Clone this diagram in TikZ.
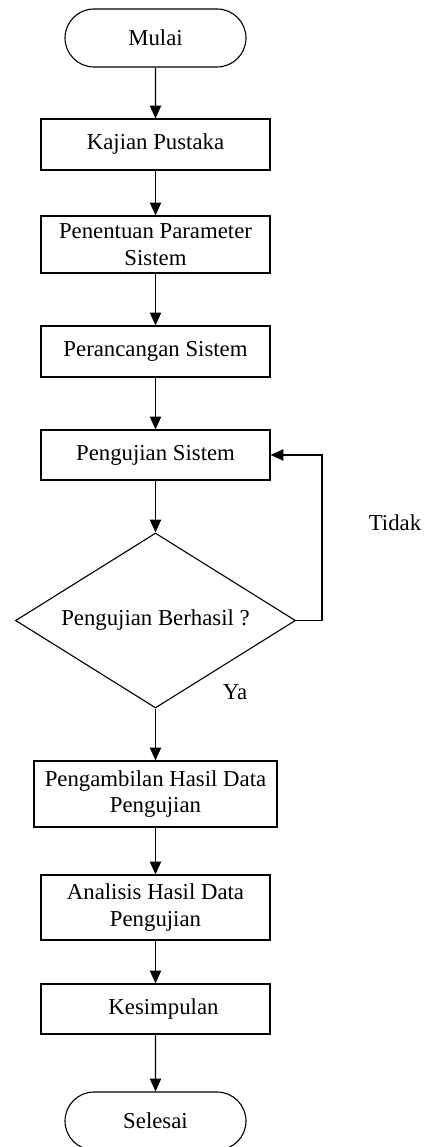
\documentclass[tikz,border=0pt]{standalone}
\usepackage{fontspec}
\setmainfont{Liberation Serif}
\usetikzlibrary{shapes.geometric,shapes.misc,arrows.meta}
\begin{document}
\begin{tikzpicture}[
    font=\fontsize{16.2}{19}\selectfont,
    terminal/.style={draw, rounded rectangle, line width=0.8pt, minimum width=4.525cm, minimum height=1.45cm, inner sep=0pt},
    proses/.style={draw, rectangle, line width=0.8pt, minimum width=5.725cm, inner sep=0pt, align=center},
    keputusan/.style={draw, diamond, line width=0.8pt, aspect=1.6, minimum width=7cm, minimum height=4.375cm, inner sep=0pt},
    panah/.style={-{Triangle[length=0.32cm, width=0.28cm]}, line width=1pt}
]
    \useasboundingbox (0,0) rectangle (10.6,-28.675);
    % nodes
    \node[terminal] (mulai) at (3.8875,-0.95) {Mulai};
    \node[proses, minimum height=1.275cm] (kajian) at (3.8875,-3.6125) {Kajian Pustaka};
    \node[proses, minimum height=1.425cm] (parameter) at (3.8875,-6.1125) {Penentuan Parameter\\Sistem};
    \node[proses, minimum height=1.275cm] (rancang) at (3.8875,-8.7875) {Perancangan Sistem};
    \node[proses, minimum height=1.25cm] (uji) at (3.8875,-11.375) {Pengujian Sistem};
    \node[keputusan] (cek) at (3.8875,-15.5125) {Pengujian Berhasil ?};
    \node[proses, minimum width=6.075cm, minimum height=1.65cm] (ambil) at (3.8875,-19.85) {Pengambilan Hasil Data\\Pengujian};
    \node[proses, minimum height=1.625cm] (analisis) at (3.8875,-22.6875) {Analisis Hasil Data\\Pengujian};
    \node[proses, minimum height=1.25cm] (simpul) at (3.8875,-25.225) {\hspace{0.4cm}Kesimpulan};
    \node[terminal] (selesai) at (3.8875,-28.025) {Selesai};
    % labels
    \node (tidak) at (9.875,-13.075) {Tidak};
    \node (ya) at (5.875,-17.3) {Ya};
    % edges
    \draw[panah] (mulai) -- (kajian);
    \draw[panah] (kajian) -- (parameter);
    \draw[panah] (parameter) -- (rancang);
    \draw[panah] (rancang) -- (uji);
    \draw[panah] (uji) -- (cek);
    \draw[panah] (cek.east) -- ++(0.65,0) |- (uji.east);
    \draw[panah] (cek) -- (ambil);
    \draw[panah] (ambil) -- (analisis);
    \draw[panah] (analisis) -- (simpul);
    \draw[panah] (simpul) -- (selesai);
\end{tikzpicture}
\end{document}
